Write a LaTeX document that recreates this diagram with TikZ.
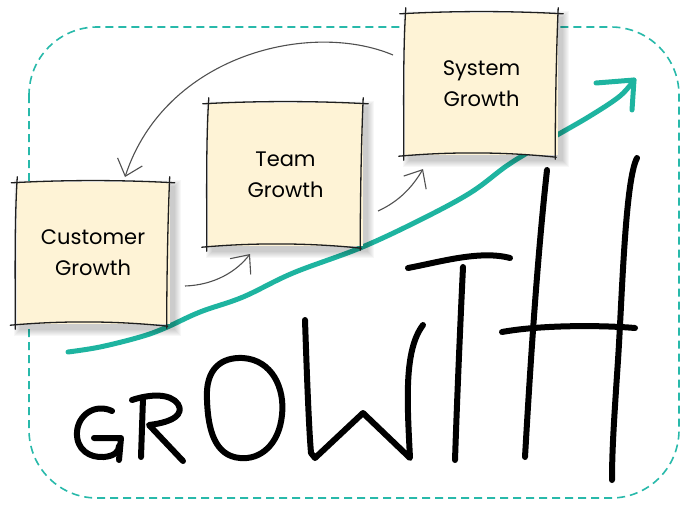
\documentclass[tikz,border=0pt]{standalone}
\usepackage{fontspec}
\setmainfont{Poppins}
\usetikzlibrary{arrows.meta,backgrounds}
\definecolor{teal1}{RGB}{30,180,160}
\definecolor{teal2}{RGB}{40,185,170}
\definecolor{cream}{RGB}{254,243,214}
\definecolor{arrowgray}{RGB}{80,80,80}
\definecolor{inkline}{RGB}{30,30,30}
\tikzset{
  note/.style={rectangle, fill=cream, draw=none, inner sep=0pt, align=center,
    font=\fontsize{21}{31}\selectfont, text=black},
  skline/.style={draw=inkline, line width=1.3pt, line cap=round},
  flow/.style={draw=arrowgray, line width=1.1pt, -{Straight Barb[length=15pt,width=26pt,line width=1.1pt]}},
  letter/.style={draw=black, line width=6pt, line cap=round, line join=round},
  rise/.style={draw=teal1, line width=5pt, line cap=round, line join=round},
  frame/.style={draw=teal2, line width=1.6pt, dash pattern=on 8pt off 5pt, rounded corners=68pt}
}
\newcommand\skbox[1]{%
  \draw[skline] ([shift={(-5,1)}]#1.north west) .. controls ([shift={(50,-2)}]#1.north west) and ([shift={(-50,-2)}]#1.north east) .. ([shift={(5,1)}]#1.north east);
  \draw[skline] ([shift={(0,-5)}]#1.north east) .. controls ([shift={(-2,40)}]#1.north east) and ([shift={(-3,-40)}]#1.south east) .. ([shift={(-3,4)}]#1.south east);
  \draw[skline] ([shift={(-6,1)}]#1.south west) .. controls ([shift={(50,-4)}]#1.south west) and ([shift={(-50,-3)}]#1.south east) .. ([shift={(-2,2)}]#1.south east);
  \draw[skline] ([shift={(1,-5)}]#1.north west) .. controls ([shift={(-2,40)}]#1.north west) and ([shift={(-1,-40)}]#1.south west) .. ([shift={(-1,5)}]#1.south west);
}
\newcommand\shadowof[1]{%
  \foreach \s in {0,1,...,6}{
    \fill[black,opacity=0.03] ([shift={(4-\s,4-\s)}]#1.north west) rectangle ([shift={(5+\s,6+\s)}]#1.south east);
  }
}
\begin{document}
\begin{tikzpicture}[x=1pt,y=-1pt]
\useasboundingbox (0,0) rectangle (682,509);

% sticky notes
\node[note, minimum width=153pt, minimum height=142pt] (cust) at (93,253) {Customer\\Growth};
\node[note, minimum width=155pt, minimum height=143pt] (team) at (285.5,174.5) {Team\\Growth};
\node[note, minimum width=153pt, minimum height=142pt] (sys) at (481.5,84) {System\\Growth};

\begin{scope}[on background layer]
  \draw[frame] (29,27) rectangle (679,498);
  \coordinate (rs) at (68,352);
  \coordinate (rt) at (634,80);
  \draw[rise] plot[smooth, tension=0.6] coordinates {(rs) (100,347) (140,337) (165,328) (200,312) (243,297) (293,273) (360,248) (420,220) (470,193) (505,167) (527,153) (552,138) (590,116) (620,96) (rt)};
  \draw[rise] (596,83) -- (rt) -- (632,110);
  \shadowof{cust}
  \shadowof{team}
  \shadowof{sys}
\end{scope}

\skbox{cust}
\skbox{team}
\skbox{sys}

% gray flow arrows
\coordinate (a1s) at (185,286);
\coordinate (a1e) at (250,254);
\draw[flow] (a1s) .. controls (215,285) and (237,271) .. (a1e);
\coordinate (a2s) at (378,211);
\coordinate (a2e) at (423,169);
\draw[flow] (a2s) .. controls (400,201) and (413,186) .. (a2e);
\coordinate (a3s) at (393,55);
\coordinate (a3e) at (125,177);
\draw[flow] (a3s) .. controls (310,20) and (165,55) .. (a3e);

% GROWTH lettering
% G
\draw[letter] (112,411) .. controls (95,403) and (78,415) .. (77,432) .. controls (76,450) and (90,458) .. (104,457) .. controls (114,456) and (119,452) .. (119,446);
\draw[letter] (94,438) -- (121,438) -- (119,460);
% R
\draw[letter] (143,398) -- (141,457);
\draw[letter] (132,400) .. controls (150,394) and (170,393) .. (178,404) .. controls (184,414) and (174,422) .. (149,425) -- (183,461);
% O
\draw[letter] (207,400) .. controls (205,368) and (222,357) .. (243,358) .. controls (272,360) and (285,388) .. (282,415) .. controls (279,445) and (260,460) .. (240,458) .. controls (215,456) and (208,430) .. (207,400) -- cycle;
% W
\draw[letter] (305,320) .. controls (307,380) and (309,430) .. (311,453) -- (315,458) -- (363,413) -- (410,458) .. controls (407,400) and (404,350) .. (423,325);
% T
\draw[letter] (408,268) .. controls (440,262) and (480,250) .. (510,258);
\draw[letter] (463,267) .. controls (460,330) and (457,400) .. (455,460);
% H
\draw[letter] (547,170) .. controls (537,260) and (530,370) .. (525,457);
\draw[letter] (502,332) .. controls (540,325) and (600,325) .. (635,328);
\draw[letter] (637,158) .. controls (625,180) and (622,300) .. (618,360) .. controls (614,420) and (612,450) .. (612,480);
\end{tikzpicture}
\end{document}
